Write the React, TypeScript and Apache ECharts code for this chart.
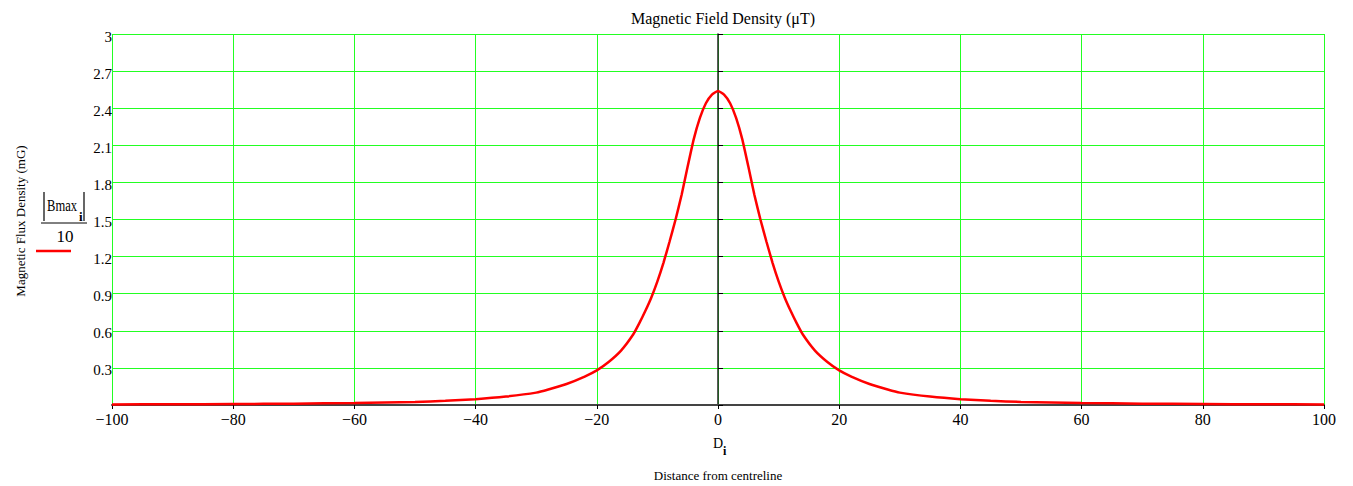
import React, { useEffect, useRef } from "react";
import * as echarts from "echarts";

// Distance from centreline (x) and |Bmax_i|/10 (y)
const distances = [
  -100, -90, -80, -70, -60, -50, -45, -40, -35, -30, -28, -25, -22, -20, -18, -16,
  -14, -13, -12, -11, -10, -9, -8, -7, -6, -5, -4, -3, -2, -1, 0,
  1, 2, 3, 4, 5, 6, 7, 8, 9, 10, 11, 12, 13, 14,
  16, 18, 20, 22, 25, 28, 30, 35, 40, 45, 50, 60, 70, 80, 90, 100,
];
const fluxValues = [
  0.005, 0.006, 0.008, 0.011, 0.016, 0.025, 0.034, 0.047, 0.068, 0.1, 0.125, 0.17, 0.23, 0.28, 0.35, 0.44,
  0.57, 0.66, 0.76, 0.87, 1.0, 1.15, 1.32, 1.5, 1.7, 1.93, 2.15, 2.32, 2.44, 2.51, 2.54,
  2.51, 2.44, 2.32, 2.15, 1.93, 1.7, 1.5, 1.32, 1.15, 1.0, 0.87, 0.76, 0.66, 0.57,
  0.44, 0.35, 0.28, 0.23, 0.17, 0.125, 0.1, 0.068, 0.047, 0.034, 0.025, 0.016, 0.011, 0.008, 0.006, 0.005,
];

const xTicks = { min: -100, max: 100, interval: 20 };
const yTicks = { min: 0, max: 3, interval: 0.3 };

const titleText = "Magnetic Field Density (\u03bcT)";
const yAxisTitle = "Magnetic Flux Density (mG)";
const xAxisTitle = "Distance from centreline";

const SERIF = "'Liberation Serif', 'Times New Roman', serif";
const GREEN = "#22ff22";

export default function App() {
  const ref = useRef<HTMLDivElement>(null);

  useEffect(() => {
    if (!ref.current) return;
    const chart = echarts.init(ref.current, null, { renderer: "svg" });
    const data = distances.map((d, i) => [d, fluxValues[i]]);

    chart.setOption({
      animation: false,
      backgroundColor: "#ffffff",
      grid: { left: 112, right: 29, top: 34, bottom: 81, containLabel: false },
      title: {
        text: titleText,
        left: 718,
        top: 5,
        textAlign: "center",
        textStyle: { fontFamily: SERIF, fontSize: 16, fontWeight: "normal", color: "#000" },
      },
      xAxis: {
        type: "value",
        min: xTicks.min,
        max: xTicks.max,
        interval: xTicks.interval,
        axisLine: { show: true, onZero: false, lineStyle: { color: "#444", width: 2 } },
        axisTick: { show: true, length: 4, lineStyle: { color: "#000", width: 1 } },
        axisLabel: {
          margin: 6,
          fontFamily: SERIF,
          fontSize: 16,
          color: "#000",
          formatter: (v: number) => (v < 0 ? "\u2212" + Math.abs(v) : String(v)),
        },
        splitLine: { show: true, showMinLine: true, showMaxLine: true, lineStyle: { color: GREEN, width: 1 } },
      },
      yAxis: {
        type: "value",
        min: yTicks.min,
        max: yTicks.max,
        interval: yTicks.interval,
        axisLine: { show: true, onZero: true, lineStyle: { color: "#222", width: 1.5 } },
        axisTick: { show: true, inside: true, length: 5, lineStyle: { color: "#000", width: 1 } },
        axisLabel: {
          margin: 0,
          fontFamily: SERIF,
          fontSize: 15,
          color: "#000",
          verticalAlign: "top",
          lineHeight: 15,
          padding: [-5, 0, 0, 0],
          formatter: (v: number) => (Math.abs(v) < 1e-9 ? "" : String(+v.toFixed(1))),
        },
        splitLine: { show: true, showMinLine: false, showMaxLine: true, lineStyle: { color: GREEN, width: 1 } },
      },
      series: [
        {
          type: "line",
          data,
          showSymbol: false,
          smooth: 0.15,
          clip: false,
          lineStyle: { color: "#ff0000", width: 2.5 },
          z: 5,
        },
      ],
      graphic: [
        {
          type: "text",
          x: 20,
          y: 221,
          rotation: Math.PI / 2,
          style: {
            text: yAxisTitle,
            fontFamily: SERIF,
            fontSize: 13,
            fill: "#000",
            align: "center",
            verticalAlign: "middle",
          },
        },
        // legend: |Bmax_i| / 10
        { type: "line", shape: { x1: 44, y1: 192, x2: 44, y2: 221 }, style: { stroke: "#000", lineWidth: 1.2 } },
        { type: "line", shape: { x1: 84, y1: 192, x2: 84, y2: 221 }, style: { stroke: "#000", lineWidth: 1.2 } },
        {
          type: "text",
          x: 47,
          y: 205,
          scaleX: 0.74,
          style: {
            text: "Bmax",
            fontFamily: SERIF,
            fontSize: 17,
            fill: "#000",
            verticalAlign: "middle",
          },
        },
        {
          type: "text",
          x: 79,
          y: 216,
          style: {
            text: "i",
            fontFamily: SERIF,
            fontSize: 13,
            fontWeight: "bold",
            fill: "#000",
            verticalAlign: "middle",
          },
        },
        { type: "line", shape: { x1: 41, y1: 223, x2: 87, y2: 223 }, style: { stroke: "#000", lineWidth: 1 } },
        {
          type: "text",
          x: 65,
          y: 236,
          style: { text: "10", fontFamily: SERIF, fontSize: 17, fill: "#000", align: "center", verticalAlign: "middle" },
        },
        { type: "line", shape: { x1: 36, y1: 251, x2: 71, y2: 251 }, style: { stroke: "#ff0000", lineWidth: 2.5 } },
        // x axis name: D_i
        {
          type: "text",
          x: 713,
          y: 443,
          style: { text: "D", fontFamily: SERIF, fontSize: 14, fill: "#000", verticalAlign: "middle" },
        },
        {
          type: "text",
          x: 723,
          y: 451,
          style: { text: "i", fontFamily: SERIF, fontSize: 12, fontWeight: "bold", fill: "#000", verticalAlign: "middle" },
        },
        {
          type: "text",
          x: 718,
          y: 475,
          style: { text: xAxisTitle, fontFamily: SERIF, fontSize: 13, fill: "#000", align: "center", verticalAlign: "middle" },
        },
      ],
    });

    return () => chart.dispose();
  }, []);

  return <div ref={ref} style={{ position: "absolute", left: 0, top: 0, width: 1353, height: 486 }} />;
}
